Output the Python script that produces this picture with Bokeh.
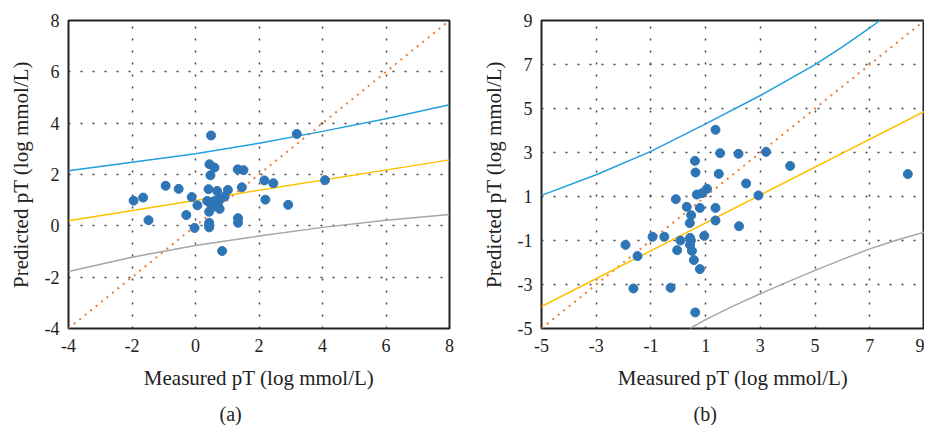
from bokeh.plotting import figure
from bokeh.layouts import row
from bokeh.models import FixedTicker, Range1d, Title
from bokeh.embed import file_html
from bokeh.resources import INLINE

# ---------------- data: panel (a) ----------------
a_meas = [0.49, 3.19, 0.44, 0.60, 0.47, 1.33, 1.51, 2.17, 2.45, 4.08,
          -0.94, -0.53, 1.46, 0.41, 0.68, 1.02, -1.95, -1.65, -0.12, 0.06,
          0.37, 0.53, 0.63, 0.79, 0.92, 0.76, 0.50, 0.58, 0.70, 2.20,
          2.92, -1.48, -0.29, 0.43, -0.03, 0.43, 0.43, 0.43, 1.34, 1.34, 0.84]
a_pred = [3.52, 3.58, 2.40, 2.27, 1.97, 2.20, 2.17, 1.77, 1.66, 1.78,
          1.56, 1.44, 1.50, 1.43, 1.36, 1.40, 0.98, 1.10, 1.12, 0.80,
          0.97, 0.92, 0.99, 1.05, 1.14, 0.66, 0.80, 0.75, 0.88, 1.02,
          0.82, 0.22, 0.42, 0.55, -0.08, 0.12, 0.02, -0.06, 0.30, 0.12, -0.98]
a_upper_x = [-4, -2, 0, 2, 4, 6, 8]
a_upper_y = [2.15, 2.48, 2.81, 3.22, 3.68, 4.17, 4.72]
a_fit_x = [-4, 8]
a_fit_y = [0.20, 2.57]
a_lower_x = [-4, -2, 0, 2, 4, 6, 8]
a_lower_y = [-1.78, -1.22, -0.77, -0.40, -0.06, 0.22, 0.44]
a_ident = [-4, 8]
a_ticks = [-4, -2, 0, 2, 4, 6, 8]

# ---------------- data: panel (b) ----------------
b_meas = [1.36, 1.53, 2.20, 3.21, 0.61, 0.63, 1.48, 4.09, 8.39, 2.48,
          1.05, 0.87, 0.68, 2.93, -0.09, 0.31, 0.79, 1.36, 0.47, 0.42,
          1.36, 2.22, -1.93, -0.94, -0.51, 0.08, -0.04, 0.43, 0.46, 0.43,
          0.50, 0.95, -1.49, 0.57, 0.79, -1.64, -0.28, 0.62]
b_pred = [4.03, 2.97, 2.94, 3.03, 2.62, 2.09, 2.03, 2.39, 2.02, 1.59,
          1.35, 1.15, 1.09, 1.05, 0.88, 0.53, 0.48, 0.48, 0.15, -0.21,
          -0.09, -0.35, -1.20, -0.83, -0.83, -1.00, -1.44, -0.88, -1.00, -1.20,
          -1.47, -0.79, -1.71, -1.89, -2.30, -3.18, -3.15, -4.27]
b_upper_x = [-5, -3, -1, 1, 3, 5, 6, 7, 7.37]
b_upper_y = [1.05, 1.99, 3.05, 4.30, 5.59, 6.99, 7.80, 8.66, 9.0]
b_fit_x = [-5, 9]
b_fit_y = [-4.00, 4.87]
b_lower_x = [0.42, 1, 2, 3, 4, 5, 6, 7, 8, 9]
b_lower_y = [-5.0, -4.6, -3.98, -3.42, -2.88, -2.36, -1.86, -1.38, -0.98, -0.62]
b_ident = [-5, 9]
b_ticks = [-5, -3, -1, 1, 3, 5, 7, 9]

X_LABEL = "Measured pT (log mmol/L)"
Y_LABEL = "Predicted pT (log mmol/L)"
FONT = "Liberation Serif"

C_PTS = "#2E75B6"
C_UP = "#22A0DC"
C_FIT = "#FFC000"
C_LOW = "#A6A6A6"
C_ID = "#ED7D31"


def panel(meas, pred, ux, uy, fx, fy, lx, ly, ident, ticks, tag,
          fw, border_left, border_right, tag_offset):
    p = figure(frame_width=fw, frame_height=308,
               x_range=Range1d(ticks[0], ticks[-1]),
               y_range=Range1d(ticks[0], ticks[-1]),
               output_backend="svg", toolbar_location=None,
               min_border_left=border_left, min_border_right=border_right,
               min_border_top=20, min_border_bottom=90)
    p.background_fill_color = "white"
    p.border_fill_color = "white"
    p.outline_line_color = "#222222"
    p.outline_line_width = 2

    labels = {t: str(t) for t in ticks}
    for ax in (p.xaxis[0], p.yaxis[0]):
        ax.ticker = FixedTicker(ticks=ticks)
        ax.major_label_overrides = labels
        ax.axis_line_color = None
        ax.major_tick_line_color = None
        ax.minor_tick_line_color = None
        ax.major_tick_out = 0
        ax.major_tick_in = 0
        ax.major_label_text_font = FONT
        ax.major_label_text_font_size = "18px"
        ax.major_label_text_color = "#1e1e1e"
        ax.axis_label_text_font = FONT
        ax.axis_label_text_font_size = "21px"
        ax.axis_label_text_font_style = "normal"
        ax.axis_label_text_color = "#222222"
    p.xaxis.axis_label = X_LABEL
    p.yaxis.axis_label = Y_LABEL
    p.xaxis.major_label_standoff = 10
    p.yaxis.major_label_standoff = 9
    p.xaxis.axis_label_standoff = 11
    p.yaxis.axis_label_standoff = 9

    for g in (p.xgrid[0], p.ygrid[0]):
        g.ticker = FixedTicker(ticks=ticks[1:-1])
        g.grid_line_color = "#444444"
        g.grid_line_dash = "2 10"
        g.grid_line_width = 1.5

    p.line(ident, ident, line_color=C_ID, line_width=2, line_dash="2 5")
    p.line(lx, ly, line_color=C_LOW, line_width=1.5)
    p.line(ux, uy, line_color=C_UP, line_width=1.5)
    p.line(fx, fy, line_color=C_FIT, line_width=1.5)
    p.scatter(meas, pred, size=9, fill_color=C_PTS, line_color=C_PTS)

    t = Title(text=tag, align="left", offset=tag_offset, text_font=FONT,
              text_font_size="20px", text_font_style="normal",
              text_color="#222222", standoff=16)
    p.add_layout(t, "below")
    return p


pa = panel(a_meas, a_pred, a_upper_x, a_upper_y, a_fit_x, a_fit_y,
           a_lower_x, a_lower_y, a_ident, a_ticks, "(a)", 381, 68, 17, 151)
pb = panel(b_meas, b_pred, b_upper_x, b_upper_y, b_fit_x, b_fit_y,
           b_lower_x, b_lower_y, b_ident, b_ticks, "(b)", 383, 75, 0, 152)

layout = row(pa, pb)
open("out.html", "w").write(file_html(layout, INLINE))
